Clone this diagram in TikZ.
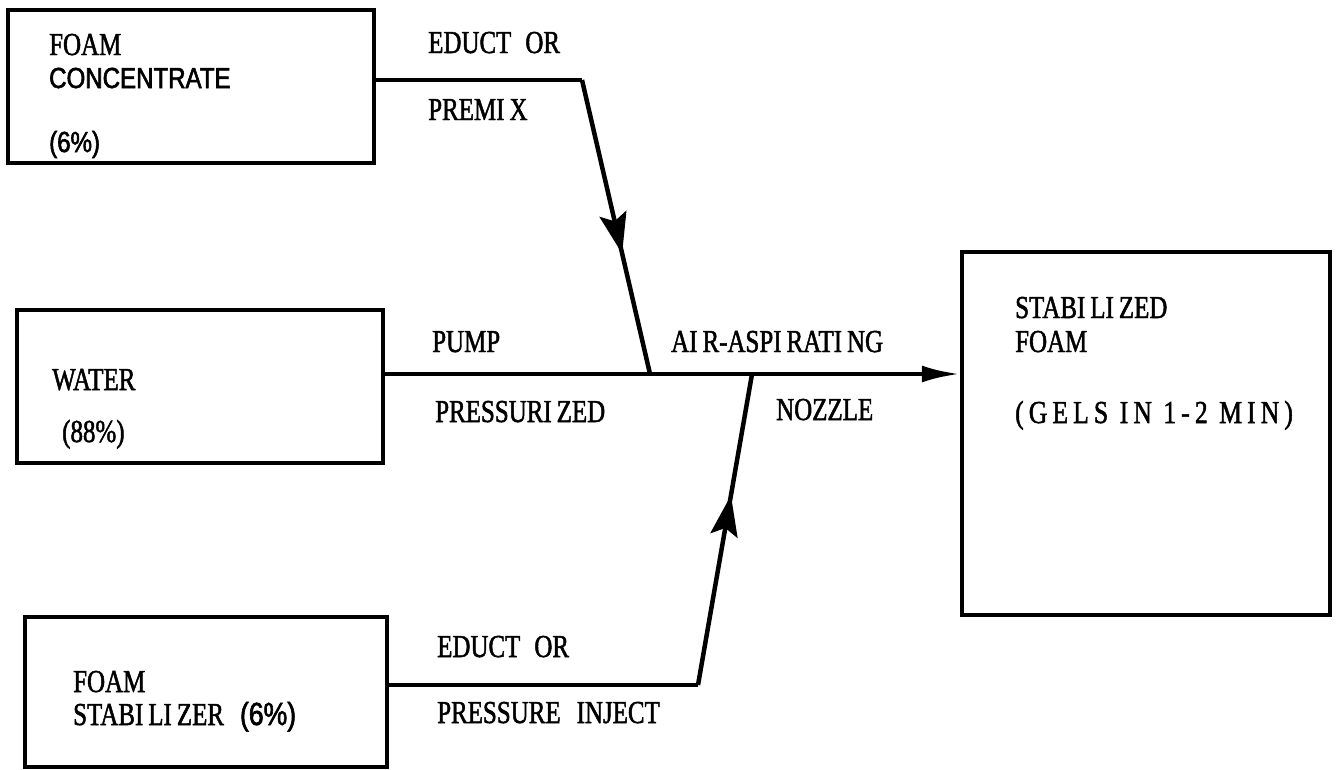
\documentclass[tikz,border=0pt]{standalone}
\usepackage{fontspec}
\setmainfont{Liberation Serif}
\newfontfamily\lblfont[FakeStretch=0.78,FakeBold=1.5]{Liberation Serif}
\newfontfamily\gelsfont[FakeStretch=0.8,FakeBold=1.5,LetterSpace=16]{Liberation Serif}
\newfontfamily\typesans[FakeStretch=0.83,FakeBold=2]{Liberation Sans}
\usetikzlibrary{arrows.meta,decorations.markings}
\begin{document}
\begin{tikzpicture}[x=1pt,y=-1pt,
  box/.style={draw,line width=4.5pt,inner sep=0pt,rectangle},
  wire/.style={line width=4.5pt},
  lbl/.style={inner sep=0pt,anchor=base west,font=\lblfont\fontsize{32}{32}\selectfont},
  sanslbl/.style={inner sep=0pt,anchor=base west,font=\typesans\fontsize{29}{29}\selectfont},
  gels/.style={inner sep=0pt,anchor=base west,font=\gelsfont\fontsize{32}{32}\selectfont},
  midarrow/.style={postaction={decorate},decoration={markings,
    mark=at position #1 with {\fill (3pt,0pt) -- (-38pt,14pt) -- (-30pt,0pt) -- (-38pt,-14pt) -- cycle;}}}
]
\fill[white] (0,0) rectangle (1337,769);
\useasboundingbox (0,0) rectangle (1337,769);

% boxes
\node[box,minimum width=366pt,minimum height=153pt] (bconc) at (191,86.5) {};
\node[box,minimum width=366pt,minimum height=153pt] (bwater) at (200,386.5) {};
\node[box,minimum width=368pt,minimum height=363pt] (bstab) at (1146,433.5) {};
\node[box,minimum width=362pt,minimum height=150pt] (bstabz) at (206,692) {};

% bend points and junctions
\coordinate (k1) at (582,80);
\coordinate (j1) at (650,374);
\coordinate (k2) at (698,685);
\coordinate (j2) at (752,374);

% connectors
\draw[wire] (bconc.east |- k1) -- (k1);
\draw[wire,midarrow=0.58] (k1) -- (j1);
\draw[wire] (bstabz.east |- k2) -- (k2);
\draw[wire,midarrow=0.6] (k2) -- (j2);
\draw[wire,-{Latex[length=38pt,width=17pt]}] (bwater.east |- j1) -- (bstab.west |- j1);

% texts in boxes
\node[lbl] (t1) at (49,55) {FOAM};
\node[sanslbl] (t2) at (49,88) {CONCENTRATE};
\node[sanslbl] (t3) at (49,152) {(6\%)};
\node[lbl] (t4) at (52,390) {WATER};
\node[lbl] (t5) at (62,442) {(88\%)};
\node[lbl] (t6) at (1015,318) {STABI\kern5pt LI\kern5pt ZED};
\node[lbl] (t7) at (1015,352) {FOAM};
\node[gels] (t8) at (1015,423) {(GELS IN 1-2 MIN)};
\node[lbl] (t9) at (73,692) {FOAM};
\node[lbl] (t10) at (73,725) {STABI\kern5pt LI\kern5pt ZER\hspace{16pt}{\typesans(6\%)}};

% connector labels
\node[lbl] (l1) at (428,53) {EDUCT\hspace{14pt}OR};
\node[lbl] (l2) at (428,120) {PREMI\kern5pt X};
\node[lbl] (l3) at (432,352) {PUMP};
\node[lbl] (l4) at (435,422) {PRESSURI\kern5pt ZED};
\node[lbl] (l5) at (671,352) {AI\kern5pt R-ASPI\kern5pt RATI\kern5pt NG};
\node[lbl] (l6) at (776,420) {NOZZLE};
\node[lbl] (l7) at (437,657) {EDUCT\hspace{14pt}OR};
\node[lbl] (l8) at (437,723) {PRESSURE\hspace{16pt}INJECT};
\end{tikzpicture}
\end{document}
